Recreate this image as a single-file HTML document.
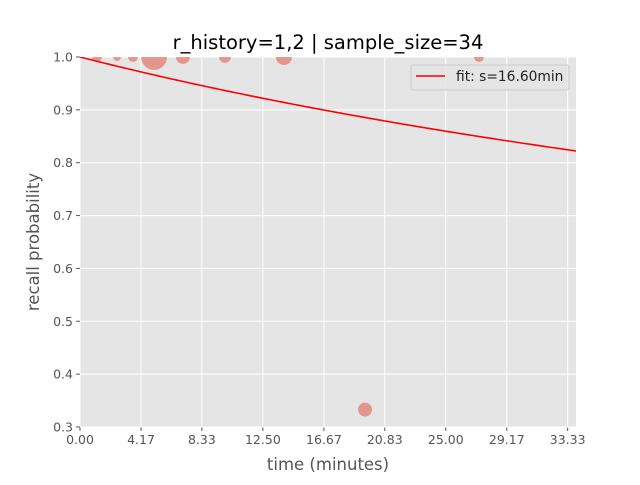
<!DOCTYPE html>
<html><head><meta charset="utf-8"><style>
body{margin:0;background:#fff;font-family:"Liberation Sans","DejaVu Sans",sans-serif}
svg text{font-family:"DejaVu Sans","Liberation Sans",sans-serif}
</style></head><body>
<svg id="chart" width="640" height="480" xmlns="http://www.w3.org/2000/svg"></svg>
<script>
const xTicks=[0,4.17,8.33,12.5,16.67,20.83,25,29.17,33.33];
const xTickLabels=["0.00","4.17","8.33","12.50","16.67","20.83","25.00","29.17","33.33"];
const yTicks=[0.3,0.4,0.5,0.6,0.7,0.8,0.9,1.0];
const yTickLabels=["0.3","0.4","0.5","0.6","0.7","0.8","0.9","1.0"];
const pointTimes=[1.16,2.53,3.62,5.06,7.04,9.91,13.94,19.48,27.27];
const pointRecall=[1,1,1,1,1,1,1,0.333,1];
const pointCounts=[1.6,1,1.6,11,3.2,2.3,4.2,3.2,1.6];
const stability=16.6;
const X0=80,X1=576,Y0=57,Y1=427,xmin=0,xmax=33.9,ymin=0.3,ymax=1.0;
const sx=v=>X0+(v-xmin)/(xmax-xmin)*(X1-X0);
const sy=v=>Y1-(v-ymin)/(ymax-ymin)*(Y1-Y0);
const svg=document.getElementById('chart');const NS='http://www.w3.org/2000/svg';
function mk(t,a,p){const e=document.createElementNS(NS,t);for(const k in a)e.setAttribute(k,a[k]);(p||svg).appendChild(e);return e;}
let e=mk('rect',{x:X0,y:Y0,width:X1-X0,height:Y1-Y0,fill:'#e5e5e5'});


const defs=mk('defs',{});const cp=mk('clipPath',{id:'c'},defs);mk('rect',{x:X0,y:Y0,width:X1-X0,height:Y1-Y0},cp);
xTicks.forEach((t,i)=>{const x=sx(t);
e=mk('line',{x1:x,x2:x,y1:Y0,y2:Y1,stroke:'#fff','stroke-width':1});


mk('line',{x1:x,x2:x,y1:Y1,y2:Y1+4,stroke:'#555'});
e=mk('text',{x:x,y:Y1+17,'text-anchor':'middle','font-size':12.5,fill:'#555'});e.textContent=xTickLabels[i];

});
yTicks.forEach((t,i)=>{const y=sy(t);
e=mk('line',{x1:X0,x2:X1,y1:y,y2:y,stroke:'#fff','stroke-width':1});


mk('line',{x1:X0-4,x2:X0,y1:y,y2:y,stroke:'#555'});
e=mk('text',{x:X0-7,y:y+4.5,'text-anchor':'end','font-size':12.5,fill:'#555'});e.textContent=yTickLabels[i];

});
const g=mk('g',{'clip-path':'url(#c)'});
pointTimes.forEach((t,i)=>{e=mk('circle',{cx:sx(t),cy:sy(pointRecall[i]),r:3.9*Math.sqrt(pointCounts[i]),fill:'#E24A33','fill-opacity':0.5},g);

});
let d='';for(let k=0;k<=200;k++){const t=xmin+(xmax-xmin)*k/200;const r=Math.pow(1+19/81*t/stability,-0.5);d+=(k?'L':'M')+sx(t).toFixed(2)+','+sy(r).toFixed(2);}
e=mk('path',{d:d,fill:'none',stroke:'red','stroke-width':1.6},g);


e=mk('text',{x:328,y:49,'text-anchor':'middle','font-size':19.5,fill:'#000'});e.textContent='r_history=1,2 | sample_size=34';


e=mk('text',{x:328,y:470,'text-anchor':'middle','font-size':16.5,fill:'#555'});e.textContent='time (minutes)';


e=mk('text',{x:39,y:242,'text-anchor':'middle','font-size':16.5,fill:'#555',transform:'rotate(-90 39 242)'});e.textContent='recall probability';


const lg=mk('g',{});


mk('rect',{x:411,y:65,width:158,height:25,rx:2,fill:'#e5e5e5',stroke:'#ccc','fill-opacity':0.8},lg);
mk('line',{x1:416,x2:445,y1:76,y2:76,stroke:'red','stroke-width':1.6},lg);
e=mk('text',{x:456,y:81,'font-size':13.8,fill:'#222'},lg);e.textContent='fit: s=16.60min';


</script>
</body></html>
